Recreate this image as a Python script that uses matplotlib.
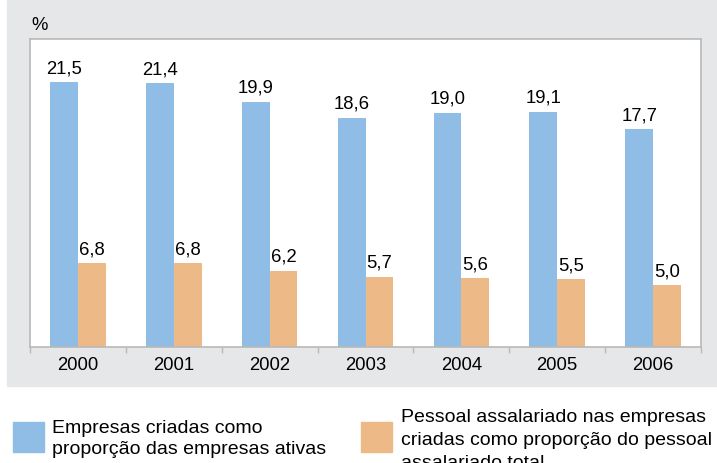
import matplotlib.pyplot as plt
from matplotlib.patches import Rectangle
import numpy as np

anos = ['2000', '2001', '2002', '2003', '2004', '2005', '2006']
empresas = [21.5, 21.4, 19.9, 18.6, 19.0, 19.1, 17.7]
pessoal = [6.8, 6.8, 6.2, 5.7, 5.6, 5.5, 5.0]
leg_empresas = ['Empresas criadas como', 'proporção das empresas ativas']
leg_pessoal = ['Pessoal assalariado nas empresas', 'criadas como proporção do pessoal',
               'assalariado total']

azul = '#8fbde6'
laranja = '#edba87'
cinza = '#e6e7e8'
borda = '#b9b9b9'

plt.rcParams['font.family'] = ['Liberation Sans', 'DejaVu Sans']

fig = plt.figure(figsize=(7.17, 4.63), dpi=100)
fig.patches.append(Rectangle((7 / 717, 1 - 386 / 463), 1, 386 / 463,
                             transform=fig.transFigure, color=cinza, zorder=-10))

ax = fig.add_axes([30 / 717, 1 - 347 / 463, 671 / 717, 308 / 463])
ax.set_zorder(1)
ax.set_facecolor('white')
x = np.arange(len(anos))
w = 0.29
b1 = ax.bar(x - w / 2, empresas, w, color=azul)
b2 = ax.bar(x + w / 2, pessoal, w, color=laranja)

for barras, vals in ((b1, empresas), (b2, pessoal)):
    for b, v in zip(barras, vals):
        ax.text(b.get_x() + b.get_width() / 2, v + 0.4, f'{v:.1f}'.replace('.', ','),
                ha='center', va='bottom', fontsize=13.3)

ax.set_xlim(-0.5, len(anos) - 0.5)
ax.set_ylim(0, 25)
ax.set_yticks([])
ax.set_xticks(x)
ax.set_xticklabels(anos, fontsize=13.3)
ax.tick_params(axis='x', which='major', length=0, pad=7)
ax.set_xticks(np.arange(len(anos) + 1) - 0.5, minor=True)
ax.tick_params(axis='x', which='minor', length=4, color=borda, width=1)
for s in ax.spines.values():
    s.set_color(borda)
    s.set_linewidth(1.2)

fig.text(31 / 717, 1 - 30 / 463, '%', fontsize=13.3, ha='left', va='baseline')

# legenda
fig.patches.append(Rectangle((13 / 717, 1 - 452 / 463), 31 / 717, 30 / 463,
                             transform=fig.transFigure, color=azul))
for i, linha in enumerate(leg_empresas):
    fig.text(52 / 717, 1 - (433 + 21 * i) / 463, linha,
             fontsize=14, ha='left', va='baseline')
fig.patches.append(Rectangle((361 / 717, 1 - 452 / 463), 31 / 717, 30 / 463,
                             transform=fig.transFigure, color=laranja))
for i, linha in enumerate(leg_pessoal):
    fig.text(401 / 717, 1 - (422 + 23 * i) / 463, linha,
             fontsize=14, ha='left', va='baseline')

fig.savefig('out.png', dpi=100)
